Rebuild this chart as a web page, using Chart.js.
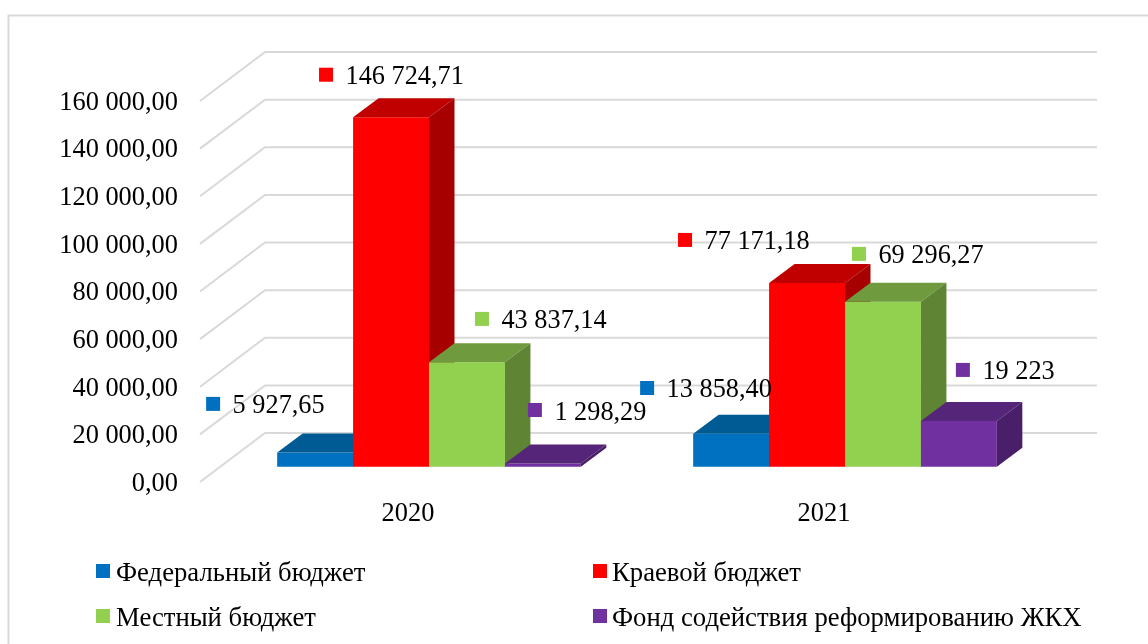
<!DOCTYPE html>
<html>
<head>
<meta charset="utf-8">
<title>Бюджет 2020-2021</title>
<script src="https://cdn.jsdelivr.net/npm/chart.js@4"></script>
<style>
    html, body { margin: 0; padding: 0; background: #fff; overflow: hidden; }
    canvas { display: block; }
</style>
</head>
<body>
<canvas id="budgetChart" width="1148" height="644"></canvas>
<script>
// ===================== DATA =====================
const categories = ['2020', '2021'];
const seriesNames = ['Федеральный бюджет', 'Краевой бюджет', 'Местный бюджет', 'Фонд содействия реформированию ЖКХ'];

const federalValues = [5927.65, 13858.40];
const regionalValues = [146724.71, 77171.18];
const localValues = [43837.14, 69296.27];
const fundValues = [1298.29, 19223];

const federalLabels = ['5 927,65', '13 858,40'];
const regionalLabels = ['146 724,71', '77 171,18'];
const localLabels = ['43 837,14', '69 296,27'];
const fundLabels = ['1 298,29', '19 223'];

// ===================== STYLES =====================
const FONT = '"Liberation Serif", "Times New Roman", serif';
const frontColors = ['#0070C0', '#FF0000', '#92D050', '#7030A0'];
const topColors = ['#005A94', '#C00000', '#6F9A3D', '#552579'];
const sideColors = ['#004F82', '#A60000', '#5F8433', '#481F68'];
const allLabels = [federalLabels, regionalLabels, localLabels, fundLabels];

// where each value label sits, relative to its bar top [x, y] for 2020 and 2021
const labelOffsets = [
    [[-109, -48.7], [-91, -45.7]],
    [[-72, -42.6], [-129, -43]],
    [[8, -43.4], [-31, -47.8]],
    [[-15, -53.6], [-3, -51]]
];

// 3D look: wall depth, bar depth and how far the bars stand from the front edge
const wallDepth = { x: 65, y: -49 };
const barDepth = { x: 25.5, y: -19 };
const barShift = { x: 21, y: -15.3 };

function formatTick(value) {
    const whole = String(value).replace(/\B(?=(\d{3})+$)/g, ' ');
    return whole + ',00';
}

function fillPoly(ctx, color, points) {
    ctx.fillStyle = color;
    ctx.beginPath();
    points.forEach(function(p, i) {
        if (i === 0) ctx.moveTo(p[0], p[1]);
        else ctx.lineTo(p[0], p[1]);
    });
    ctx.closePath();
    ctx.fill();
}

// ===================== PLUGIN: 3D WALLS, BAR FACES, LABELS, LEGEND =====================
const bars3d = {
    id: 'bars3d',

    beforeDatasetsDraw(chart) {
        const ctx = chart.ctx;
        const y = chart.scales.y;
        const area = chart.chartArea;

        // outer frame (only left and top are inside the picture)
        ctx.save();
        ctx.strokeStyle = '#D9D9D9';
        ctx.lineWidth = 2;
        ctx.beginPath();
        ctx.moveTo(8.5, 644);
        ctx.lineTo(8.5, 15.5);
        ctx.lineTo(1148, 15.5);
        ctx.stroke();

        // grid lines: diagonal on the side wall, straight on the back wall
        y.ticks.forEach(function(tick) {
            const py = y.getPixelForValue(tick.value);
            ctx.beginPath();
            ctx.moveTo(area.left, py);
            ctx.lineTo(area.left + wallDepth.x, py + wallDepth.y);
            ctx.lineTo(area.right + wallDepth.x, py + wallDepth.y);
            ctx.stroke();
        });

        // value axis labels, the digits are centred on the line ends
        ctx.fillStyle = '#000';
        ctx.font = '26.4px ' + FONT;
        ctx.textAlign = 'right';
        ctx.textBaseline = 'alphabetic';
        y.ticks.forEach(function(tick) {
            ctx.fillText(formatTick(tick.value), area.left - 22, y.getPixelForValue(tick.value) + 8.8);
        });
        ctx.restore();
    },

    // bars go left to right by hand, so the next bar covers the side of the one before
    beforeDatasetDraw() {
        return false;
    },

    afterDatasetsDraw(chart) {
        const ctx = chart.ctx;

        seriesNames.forEach(function(name, s) {
            const meta = chart.getDatasetMeta(s);
            ctx.save();
            ctx.translate(barShift.x, barShift.y);
            meta.controller.draw();
            meta.data.forEach(function(bar) {
                const half = bar.width / 2;
                const l = bar.x - half;
                const r = bar.x + half;
                const t = bar.y;
                const b = bar.base;
                fillPoly(ctx, topColors[s], [[l, t], [l + barDepth.x, t + barDepth.y], [r + barDepth.x, t + barDepth.y], [r, t]]);
                fillPoly(ctx, sideColors[s], [[r, t], [r + barDepth.x, t + barDepth.y], [r + barDepth.x, b + barDepth.y], [r, b]]);
            });
            ctx.restore();
        });

        ctx.save();

        // value labels with their small colour keys
        ctx.textAlign = 'left';
        ctx.textBaseline = 'alphabetic';
        ctx.font = '26.3px ' + FONT;
        seriesNames.forEach(function(name, s) {
            chart.getDatasetMeta(s).data.forEach(function(bar, i) {
                const keyX = bar.x + barShift.x + labelOffsets[s][i][0];
                const keyY = bar.y + barShift.y + labelOffsets[s][i][1];
                ctx.fillStyle = frontColors[s];
                ctx.fillRect(keyX, keyY - 7, 14, 14);
                ctx.fillStyle = '#000';
                ctx.fillText(allLabels[s][i], keyX + 26.5, keyY + 9.5);
            });
        });

        // legend, two columns by two rows
        const columns = [96, 593];
        const rows = [564, 609];
        ctx.font = '26.7px ' + FONT;
        seriesNames.forEach(function(name, s) {
            const lx = columns[s % 2];
            const ly = rows[Math.floor(s / 2)];
            ctx.fillStyle = frontColors[s];
            ctx.fillRect(lx, ly, 14, 14);
            ctx.fillStyle = '#000';
            ctx.fillText(name, lx + (s % 2 ? 19 : 20), ly + 17);
        });
        ctx.restore();
    }
};

// ===================== CHART =====================
const sources = [federalValues, regionalValues, localValues, fundValues];

new Chart(document.getElementById('budgetChart').getContext('2d'), {
    type: 'bar',
    data: {
        labels: categories,
        datasets: seriesNames.map(function(name, s) {
            return {
                label: name,
                data: sources[s],
                backgroundColor: frontColors[s],
                borderWidth: 0,
                barPercentage: 1,
                categoryPercentage: 0.73
            };
        })
    },
    options: {
        responsive: false,
        animation: false,
        devicePixelRatio: 1,
        layout: { padding: { left: 0, top: 101, right: 116, bottom: 102 } },
        plugins: {
            legend: { display: false },
            title: { display: false },
            tooltip: { enabled: false }
        },
        scales: {
            x: {
                afterFit(scale) { scale.height = 60; },
                grid: { display: false, drawTicks: false },
                border: { display: false },
                ticks: { color: '#000', padding: 16, maxRotation: 0, font: { family: FONT, size: 26.4 } }
            },
            y: {
                min: 0,
                max: 160000,
                afterFit(scale) { scale.width = 200; },
                grid: { display: false, drawTicks: false },
                border: { display: false },
                ticks: { display: false, stepSize: 20000 }
            }
        }
    },
    plugins: [bars3d]
});
</script>
</body>
</html>
